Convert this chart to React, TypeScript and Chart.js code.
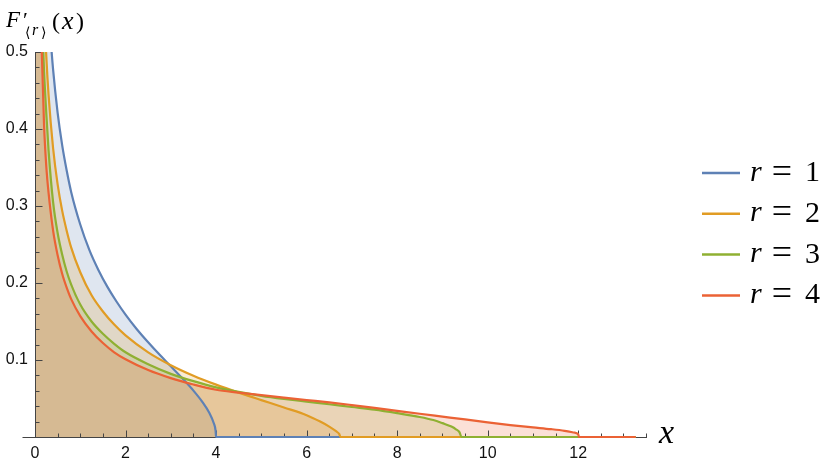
import React, { useEffect, useRef } from 'react';
import { Chart, registerables } from 'chart.js';

Chart.register(...registerables);

// ---- data ----
const xR1 = [0.01, 0.1, 0.2, 0.3, 0.35, 0.4, 0.5, 0.6, 0.7, 0.8, 1.0, 1.2, 1.4, 1.6, 1.8, 2.0, 2.25, 2.5, 2.75, 3.0, 3.25, 3.5, 3.7, 3.85, 3.95, 3.99, 4.0, 13.27];
const yR1 = [3.18, 0.994, 0.694, 0.559, 0.514, 0.477, 0.421, 0.379, 0.346, 0.318, 0.276, 0.243, 0.217, 0.195, 0.176, 0.159, 0.14, 0.123, 0.107, 0.0919, 0.0765, 0.0602, 0.0453, 0.0314, 0.0179, 0.008, 0, 0];

const xR2 = [0.01, 0.1, 0.15, 0.2, 0.25, 0.3, 0.4, 0.5, 0.6, 0.7, 0.8, 1.0, 1.25, 1.5, 1.75, 2.0, 2.5, 3.0, 3.5, 4.0, 4.5, 5.0, 5.5, 6.0, 6.3, 6.5, 6.65, 6.72, 6.75, 13.27];
const yR2 = [3.05, 0.834, 0.662, 0.562, 0.494, 0.444, 0.375, 0.328, 0.294, 0.268, 0.246, 0.214, 0.184, 0.163, 0.146, 0.132, 0.11, 0.0933, 0.0796, 0.068, 0.0576, 0.0479, 0.0383, 0.0283, 0.02, 0.0135, 0.0075, 0.004, 0, 0];

const xR3 = [0.01, 0.1, 0.15, 0.2, 0.25, 0.3, 0.4, 0.5, 0.6, 0.7, 0.8, 1.0, 1.25, 1.5, 1.75, 2.0, 2.5, 3.0, 3.5, 4.0, 4.5, 5.0, 5.5, 6.0, 6.5, 7.0, 7.5, 8.0, 8.5, 8.8, 9.0, 9.2, 9.3, 9.38, 9.42, 13.27];
const yR3 = [2.6, 0.68, 0.55, 0.475, 0.42, 0.372, 0.305, 0.265, 0.237, 0.215, 0.198, 0.172, 0.15, 0.134, 0.121, 0.11, 0.0945, 0.082, 0.0725, 0.0645, 0.0585, 0.0535, 0.0495, 0.046, 0.0425, 0.039, 0.0355, 0.031, 0.026, 0.022, 0.018, 0.0135, 0.01, 0.006, 0, 0];

const xR4 = [0.01, 0.1, 0.15, 0.2, 0.25, 0.3, 0.4, 0.5, 0.6, 0.7, 0.8, 1.0, 1.25, 1.5, 1.75, 2.0, 2.5, 3.0, 3.5, 4.0, 4.5, 5.0, 5.5, 6.0, 6.5, 7.0, 7.5, 8.0, 8.5, 9.0, 9.5, 10.0, 10.5, 11.0, 11.4, 11.7, 11.9, 12.0, 12.02, 13.27];
const yR4 = [2.2, 0.62, 0.5, 0.405, 0.351, 0.317, 0.268, 0.236, 0.212, 0.194, 0.179, 0.157, 0.137, 0.122, 0.11, 0.101, 0.087, 0.0765, 0.0682, 0.0614, 0.0577, 0.0543, 0.0511, 0.048, 0.045, 0.0415, 0.0378, 0.034, 0.0302, 0.0265, 0.0228, 0.019, 0.0155, 0.0125, 0.0102, 0.008, 0.0058, 0.0035, 0, 0];

const seriesX = [xR1, xR2, xR3, xR4];
const seriesY = [yR1, yR2, yR3, yR4];
const seriesLabels = ['r = 1', 'r = 2', 'r = 3', 'r = 4'];
const legendNumbers = ['1', '2', '3', '4'];

const xTickValues = [0, 2, 4, 6, 8, 10, 12];
const xTickLabels = ['0', '2', '4', '6', '8', '10', '12'];
const yTickValues = [0.1, 0.2, 0.3, 0.4, 0.5];
const yTickLabels = ['0.1', '0.2', '0.3', '0.4', '0.5'];

// ---- styles ----
const lineColors = ['#5E81B5', '#E19C24', '#8FB032', '#EB6235'];
const fillColors = ['rgba(94,129,181,0.2)', 'rgba(225,156,36,0.2)', 'rgba(143,176,50,0.2)', 'rgba(235,98,53,0.2)'];
const SANS = '"Liberation Sans", Arial, Helvetica, sans-serif';
const SERIF = '"Liberation Serif", "Times New Roman", serif';
const AXIS_COLOR = '#444';

const axesPlugin = {
  id: 'mmaAxes',
  beforeDatasetsDraw(chart: any) {
    const { ctx, chartArea, scales } = chart;
    const xs = scales.x;
    const ys = scales.y;
    const x0 = Math.round(xs.getPixelForValue(0)) + 0.5;
    const y0 = Math.round(ys.getPixelForValue(0)) + 0.5;
    const yTop = ys.getPixelForValue(0.5);
    ctx.save();
    ctx.strokeStyle = AXIS_COLOR;
    ctx.lineWidth = 1;
    ctx.beginPath();
    ctx.moveTo(x0 - 13, y0);
    ctx.lineTo(chartArea.right, y0);
    ctx.moveTo(x0, y0);
    ctx.lineTo(x0, yTop);
    for (let i = 0; i <= 27; i++) {
      const v = i * 0.5;
      const px = Math.round(xs.getPixelForValue(v)) + 0.5;
      const len = i % 4 === 0 ? 7 : 4;
      ctx.moveTo(px, y0);
      ctx.lineTo(px, y0 - len);
    }
    for (let i = 0; i <= 25; i++) {
      const v = i * 0.02;
      const py = Math.round(ys.getPixelForValue(v)) + 0.5;
      const len = i % 5 === 0 ? 7 : 4;
      ctx.moveTo(x0, py);
      ctx.lineTo(x0 + len, py);
    }
    ctx.stroke();
    ctx.restore();
  },
};

const textPlugin = {
  id: 'mmaText',
  afterDraw(chart: any) {
    const { ctx } = chart;
    ctx.save();
    ctx.fillStyle = '#000';
    ctx.textBaseline = 'alphabetic';
    ctx.textAlign = 'left';
    // title F'_<r>(x)
    ctx.font = `italic 23px ${SERIF}`;
    ctx.fillText('F', 6, 27);
    ctx.font = `22px ${SERIF}`;
    ctx.fillText('\u2032', 23, 27);
    ctx.font = `14px "DejaVu Sans", sans-serif`;
    ctx.fillText('\u27E8', 25, 37);
    ctx.font = `italic 16px ${SERIF}`;
    ctx.fillText('r', 32, 35);
    ctx.font = `14px "DejaVu Sans", sans-serif`;
    ctx.fillText('\u27E9', 41, 37);
    ctx.font = `24px ${SERIF}`;
    ctx.fillText('(', 52, 29);
    ctx.font = `italic 26px ${SERIF}`;
    ctx.fillText('x', 62, 29);
    ctx.font = `24px ${SERIF}`;
    ctx.fillText(')', 76, 29);

    // axis label x
    ctx.font = `italic 34px ${SERIF}`;
    ctx.fillText('x', 659, 443);

    // legend
    for (let i = 0; i < seriesLabels.length; i++) {
      const ly = 173 + i * 40.8;
      ctx.strokeStyle = lineColors[i];
      ctx.lineWidth = 2.5;
      ctx.beginPath();
      ctx.moveTo(702, ly);
      ctx.lineTo(740, ly);
      ctx.stroke();
      ctx.fillStyle = '#000';
      ctx.textAlign = 'left';
      ctx.font = `italic 30px ${SERIF}`;
      ctx.fillText('r', 750, ly + 7.5);
      ctx.textAlign = 'center';
      ctx.font = `36px ${SERIF}`;
      ctx.fillText('=', 782, ly + 9.5);
      ctx.font = `30px ${SERIF}`;
      ctx.fillText(legendNumbers[i], 812.5, ly + 8);
    }
    ctx.restore();
  },
};

export default function App() {
  const ref = useRef<HTMLCanvasElement | null>(null);

  useEffect(() => {
    if (!ref.current) return;
    const datasets = seriesY.map((ys, i) => ({
      label: seriesLabels[i],
      data: ys.map((v, j) => ({ x: seriesX[i][j], y: v })),
      borderColor: lineColors[i],
      backgroundColor: fillColors[i],
      borderWidth: 2.2,
      fill: 'origin',
      pointRadius: 0,
      cubicInterpolationMode: 'monotone',
      order: seriesY.length - i,
      clip: { left: 1, top: 0, right: 1, bottom: 2 },
    }));

    const chart = new Chart(ref.current, {
      type: 'line',
      data: { datasets } as any,
      options: {
        animation: false,
        responsive: false,
        maintainAspectRatio: false,
        events: [],
        layout: { padding: { left: 0, top: 52, right: 184, bottom: 0 } },
        plugins: {
          legend: { display: false },
          tooltip: { enabled: false },
          filler: { drawTime: 'beforeDatasetsDraw' },
        } as any,
        scales: {
          x: {
            type: 'linear',
            min: 0,
            max: 13.52,
            grid: { display: false, drawTicks: false },
            border: { display: false },
            afterBuildTicks: (s: any) => {
              s.ticks = xTickValues.map((v) => ({ value: v }));
            },
            afterFit: (s: any) => {
              s.height = 26;
            },
            ticks: {
              autoSkip: false,
              maxRotation: 0,
              padding: 7,
              color: '#111',
              font: { family: SANS, size: 16 },
              callback: (v: any) => {
                const k = xTickValues.indexOf(Number(v));
                return k >= 0 ? xTickLabels[k] : '';
              },
            },
          },
          y: {
            type: 'linear',
            min: 0,
            max: 0.5,
            grid: { display: false, drawTicks: false },
            border: { display: false },
            afterBuildTicks: (s: any) => {
              s.ticks = yTickValues.map((v) => ({ value: v }));
            },
            afterFit: (s: any) => {
              s.width = 35;
            },
            ticks: {
              autoSkip: false,
              padding: 7,
              color: '#111',
              font: { family: SANS, size: 16 },
              callback: (v: any) => {
                const k = yTickValues.indexOf(Number(v));
                return k >= 0 ? yTickLabels[k] : '';
              },
            },
          },
        } as any,
      },
      plugins: [axesPlugin, textPlugin],
    });
    return () => chart.destroy();
  }, []);

  return (
    <div style={{ position: 'fixed', left: 0, top: 0, width: 831, height: 463, background: '#fff' }}>
      <canvas ref={ref} width={831} height={463} style={{ display: 'block', width: 831, height: 463 }} />
    </div>
  );
}
